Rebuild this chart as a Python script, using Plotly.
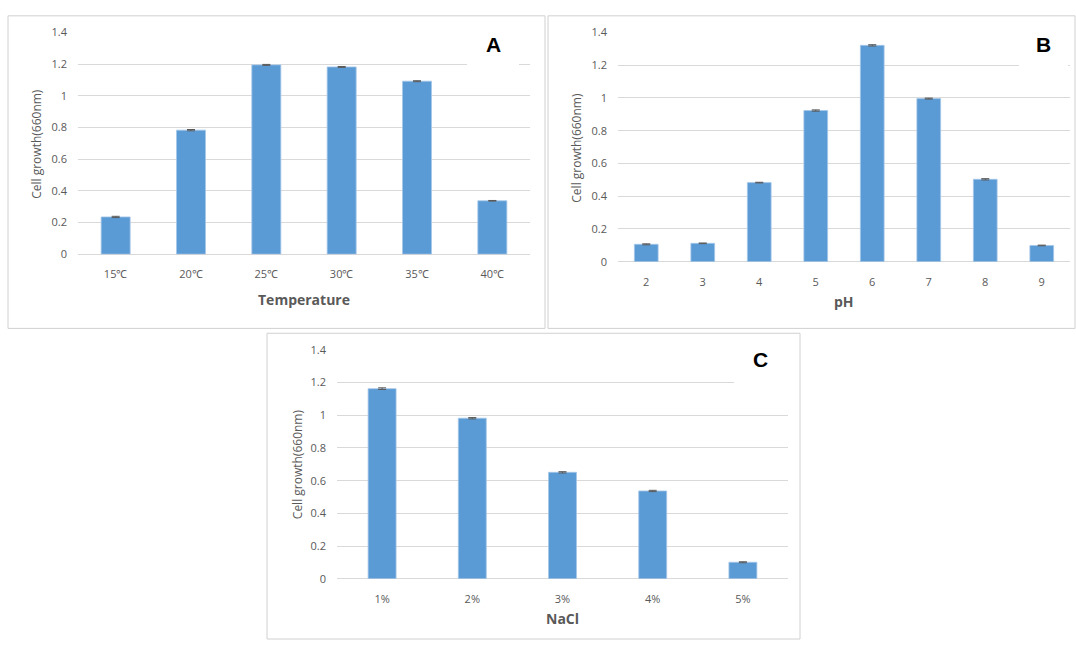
import plotly.graph_objects as go

W, H = 1076, 647

# ---- data ----
temp_cats = ["15℃", "20℃", "25℃", "30℃", "35℃", "40℃"]
temp_vals = [0.235, 0.783, 1.195, 1.182, 1.092, 0.337]
temp_err = [0.004, 0.004, 0.003, 0.003, 0.003, 0.002]

ph_cats = ["2", "3", "4", "5", "6", "7", "8", "9"]
ph_vals = [0.106, 0.112, 0.483, 0.923, 1.321, 0.996, 0.503, 0.099]
ph_err = [0.003, 0.002, 0.002, 0.004, 0.004, 0.003, 0.004, 0.002]

nacl_cats = ["1%", "2%", "3%", "4%", "5%"]
nacl_vals = [1.163, 0.982, 0.651, 0.537, 0.101]
nacl_err = [0.005, 0.004, 0.004, 0.004, 0.003]

y_ticks = [0, 0.2, 0.4, 0.6, 0.8, 1.0, 1.2, 1.4]

BAR = "#5B9BD5"
GRID = "#d9d9d9"
TXT = "#595959"
FONT = "Open Sans"


def fx(x):
    return x / W


def fy(y):
    return 1 - y / H


fig = go.Figure()

panels = [
    dict(cats=temp_cats, vals=temp_vals, err=temp_err, width=0.385, xa="x", ya="y"),
    dict(cats=ph_cats, vals=ph_vals, err=ph_err, width=0.42, xa="x2", ya="y2"),
    dict(cats=nacl_cats, vals=nacl_vals, err=nacl_err, width=0.31, xa="x3", ya="y3"),
]
for p in panels:
    fig.add_trace(go.Bar(
        x=p["cats"], y=p["vals"], width=p["width"],
        marker=dict(color=BAR, line=dict(width=0.8, color="#a4c6e8")),
        error_y=dict(type="data", array=p["err"], visible=True,
                     color="#595959", thickness=1, width=4),
        xaxis=p["xa"], yaxis=p["ya"], showlegend=False,
    ))

# plot area pixel geometry: (left, right, top(1.4), bottom(0))
geo = {
    "": (78, 530, 25, 252),
    "2": (618, 1070, 25, 259.7),
    "3": (337, 788, 350, 584.3),
}
layout = dict(
    width=W, height=H, margin=dict(l=0, r=0, t=0, b=0),
    paper_bgcolor="white", plot_bgcolor="white",
    bargap=0.5, showlegend=False,
    font=dict(family=FONT, color=TXT, size=11),
)
for k, (l, r, t, b) in geo.items():
    layout["xaxis" + k] = dict(
        domain=[fx(l), fx(r)], anchor="y" + k, type="category",
        showgrid=False, showline=False, ticks="", zeroline=False,
        tickfont=dict(family=FONT, size=11, color=TXT),
        ticklabelstandoff=12,
    )
    layout["yaxis" + k] = dict(
        domain=[fy(b), fy(t)], anchor="x" + k, range=[0, 1.4],
        tickvals=y_ticks, ticktext=[f"{v:g}" for v in y_ticks],
        showgrid=True, gridcolor=GRID, gridwidth=1,
        zeroline=True, zerolinecolor=GRID, zerolinewidth=1,
        showline=False, ticks="",
        tickfont=dict(family=FONT, size=11, color=TXT),
        ticklabelstandoff=10,
    )
fig.update_layout(**layout)

shapes = []
# panel borders
for (x0, y0, x1, y1) in [(8, 8, 545, 328), (548, 8, 1075, 328), (267, 333, 800, 646)]:
    shapes.append(dict(type="rect", xref="paper", yref="paper",
                       x0=fx(x0), x1=fx(x1), y0=fy(y1), y1=fy(y0),
                       line=dict(color="#d0d0d0", width=1), fillcolor="rgba(0,0,0,0)",
                       layer="below"))
# white label boxes covering gridlines
for (x0, y0, x1, y1) in [(467, 17, 519, 62), (1019, 17, 1068, 62), (734, 342, 788, 387)]:
    shapes.append(dict(type="rect", xref="paper", yref="paper",
                       x0=fx(x0), x1=fx(x1), y0=fy(y1), y1=fy(y0),
                       line=dict(width=0), fillcolor="white", layer="above"))
fig.update_layout(shapes=shapes)

ann = []
# y-axis titles
for (x, y) in [(37, 139), (577, 143), (297, 467)]:
    ann.append(dict(text="Cell growth(660nm)", x=fx(x), y=fy(y), xref="paper", yref="paper",
                    textangle=-90, showarrow=False, xanchor="center", yanchor="middle",
                    font=dict(family=FONT, size=12, color=TXT)))
# x-axis titles
for (t, x, y) in [("Temperature", 304, 298), ("pH", 844, 300), ("NaCl", 562, 625)]:
    ann.append(dict(text=f"<b>{t}</b>", x=fx(x), y=fy(y), xref="paper", yref="paper",
                    showarrow=False, xanchor="center", yanchor="middle",
                    font=dict(family=FONT, size=14, color=TXT)))
# panel letters
for (t, x, y) in [("A", 493, 37), ("B", 1043, 37), ("C", 760, 360)]:
    ann.append(dict(text=f"<b>{t}</b>", x=fx(x), y=fy(y), xref="paper", yref="paper",
                    showarrow=False, xanchor="center", yanchor="middle",
                    font=dict(family="Liberation Sans", size=21, color="black")))
fig.update_layout(annotations=ann)

pin = ("document.body.style.margin='0';"
       "var gd=document.getElementById('{plot_id}');"
       "gd.style.position='fixed';gd.style.left='0px';gd.style.top='0px';")
fig.write_html("out.html", post_script=pin, config={"displayModeBar": False})
